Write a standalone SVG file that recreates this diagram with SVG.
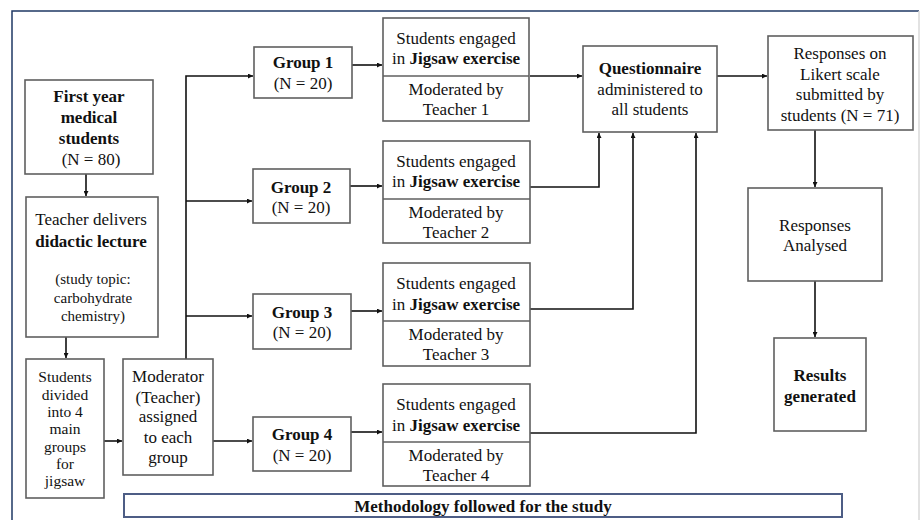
<svg xmlns="http://www.w3.org/2000/svg" width="921" height="520" viewBox="0 0 921 520" font-family="'Liberation Serif', 'DejaVu Serif', serif">
<style>
text{font-family:'Liberation Serif','DejaVu Serif',serif;font-size:17px;fill:#111;text-anchor:middle}
.b{font-weight:bold}
.s{font-size:15px}
.t{font-size:15.5px}
.box{fill:#fff;stroke:#5f5f5f;stroke-width:1.6}
.ln{fill:none;stroke:#111;stroke-width:1.6}
.cap{fill:#fff;stroke:#4d5d85;stroke-width:2}
</style>
<defs>
<marker id="ah" viewBox="0 0 8 8" refX="8" refY="4" markerWidth="5" markerHeight="5" markerUnits="userSpaceOnUse" orient="auto">
<path d="M0,0 L8,4 L0,8 z" fill="#111"/>
</marker>
</defs>
<rect width="921" height="520" fill="#fff"/>
<g id="frame">
<path d="M12,530 V11 H919" fill="none" stroke="#1f3864" stroke-width="1.5"/>
<path d="M919,11 V530" fill="none" stroke="#d8d8d8" stroke-width="1.5"/>
</g>
<g id="connectors">
<path class="ln" d="M86,174 V196" marker-end="url(#ah)"/>
<path class="ln" d="M66,337 V358" marker-end="url(#ah)"/>
<path class="ln" d="M104,441 H122" marker-end="url(#ah)"/>
<path class="ln" d="M186,359 V76 H253" marker-end="url(#ah)"/>
<path class="ln" d="M186,201 H252" marker-end="url(#ah)"/>
<path class="ln" d="M186,316 H252" marker-end="url(#ah)"/>
<path class="ln" d="M213,441 H252" marker-end="url(#ah)"/>
<path class="ln" d="M352,65 H382" marker-end="url(#ah)"/>
<path class="ln" d="M350,186 H382" marker-end="url(#ah)"/>
<path class="ln" d="M351,311 H382" marker-end="url(#ah)"/>
<path class="ln" d="M351,432 H382" marker-end="url(#ah)"/>
<path class="ln" d="M530,76 H582" marker-end="url(#ah)"/>
<path class="ln" d="M530,187 H599 V133" marker-end="url(#ah)"/>
<path class="ln" d="M530,309 H633 V133" marker-end="url(#ah)"/>
<path class="ln" d="M530,433 H696 V133" marker-end="url(#ah)"/>
<path class="ln" d="M717,76 H767" marker-end="url(#ah)"/>
<path class="ln" d="M815,130 V187" marker-end="url(#ah)"/>
<path class="ln" d="M815,281 V337" marker-end="url(#ah)"/>
</g>
<g id="first-year">
<rect class="box" x="25" y="80" width="128" height="94"/>
<text x="89" y="102" class="b">First year</text>
<text x="89" y="123" class="b">medical</text>
<text x="89" y="144" class="b">students</text>
<text x="91" y="165">(N = 80)</text>
</g>
<g id="teacher">
<rect class="box" x="26" y="197" width="132" height="140"/>
<text x="91" y="225">Teacher delivers</text>
<text x="91" y="247" class="b">didactic lecture</text>
<text x="93" y="284" class="s">(study topic:</text>
<text x="93" y="303" class="s">carbohydrate</text>
<text x="93" y="321" class="s">chemistry)</text>
</g>
<g id="divided">
<rect class="box" x="26" y="359" width="78" height="139"/>
<text x="65" y="382" class="t">Students</text>
<text x="65" y="399.5" class="t">divided</text>
<text x="65" y="417" class="t">into 4</text>
<text x="65" y="434" class="t">main</text>
<text x="65" y="451.5" class="t">groups</text>
<text x="65" y="469" class="t">for</text>
<text x="65" y="486" class="t">jigsaw</text>
</g>
<g id="moderator">
<rect class="box" x="123" y="359" width="90" height="116"/>
<text x="168" y="382">Moderator</text>
<text x="168" y="403">(Teacher)</text>
<text x="168" y="422">assigned</text>
<text x="168" y="443">to each</text>
<text x="168" y="463">group</text>
</g>
<g id="group1">
<rect class="box" x="254" y="47" width="98" height="51"/>
<text x="303" y="68" class="b">Group 1</text>
<text x="303" y="89">(N = 20)</text>
</g>
<g id="group2">
<rect class="box" x="253" y="169" width="97" height="54"/>
<text x="301" y="193" class="b">Group 2</text>
<text x="301" y="213">(N = 20)</text>
</g>
<g id="group3">
<rect class="box" x="253" y="294" width="98" height="55"/>
<text x="302" y="318" class="b">Group 3</text>
<text x="302" y="338">(N = 20)</text>
</g>
<g id="group4">
<rect class="box" x="253" y="417" width="98" height="54"/>
<text x="302" y="440" class="b">Group 4</text>
<text x="302" y="461">(N = 20)</text>
</g>
<g id="jigsaw1">
<rect class="box" x="383" y="18" width="146" height="103"/>
<line class="box" x1="383" y1="76" x2="529" y2="76"/>
<text x="456" y="44">Students engaged</text>
<text x="456" y="64">in <tspan class="b">Jigsaw exercise</tspan></text>
<text x="456" y="95">Moderated by</text>
<text x="456" y="115">Teacher 1</text>
</g>
<g id="jigsaw2">
<rect class="box" x="383" y="141" width="147" height="102"/>
<line class="box" x1="383" y1="199" x2="530" y2="199"/>
<text x="456" y="167">Students engaged</text>
<text x="456" y="187">in <tspan class="b">Jigsaw exercise</tspan></text>
<text x="456" y="218">Moderated by</text>
<text x="456" y="238">Teacher 2</text>
</g>
<g id="jigsaw3">
<rect class="box" x="383" y="263" width="147" height="103"/>
<line class="box" x1="383" y1="321" x2="530" y2="321"/>
<text x="456" y="289">Students engaged</text>
<text x="456" y="310">in <tspan class="b">Jigsaw exercise</tspan></text>
<text x="456" y="340">Moderated by</text>
<text x="456" y="360">Teacher 3</text>
</g>
<g id="jigsaw4">
<rect class="box" x="383" y="384" width="147" height="102"/>
<line class="box" x1="383" y1="442" x2="530" y2="442"/>
<text x="456" y="410">Students engaged</text>
<text x="456" y="431">in <tspan class="b">Jigsaw exercise</tspan></text>
<text x="456" y="461">Moderated by</text>
<text x="456" y="481">Teacher 4</text>
</g>
<g id="questionnaire">
<rect class="box" x="583" y="46" width="134" height="86"/>
<text x="650" y="74" class="b">Questionnaire</text>
<text x="650" y="95">administered to</text>
<text x="650" y="115">all students</text>
</g>
<g id="responses">
<rect class="box" x="768" y="36" width="145" height="94"/>
<text x="840" y="59">Responses on</text>
<text x="840" y="80">Likert scale</text>
<text x="840" y="100">submitted by</text>
<text x="840" y="121">students (N = 71)</text>
</g>
<g id="analysed">
<rect class="box" x="748" y="188" width="134" height="93"/>
<text x="815" y="231">Responses</text>
<text x="815" y="251">Analysed</text>
</g>
<g id="results">
<rect class="box" x="774" y="338" width="92" height="93"/>
<text x="820" y="381" class="b">Results</text>
<text x="820" y="402" class="b">generated</text>
</g>
<g id="caption">
<rect class="cap" x="124" y="494" width="718" height="23"/>
<text x="483" y="512" class="b">Methodology followed for the study</text>
</g>
</svg>
